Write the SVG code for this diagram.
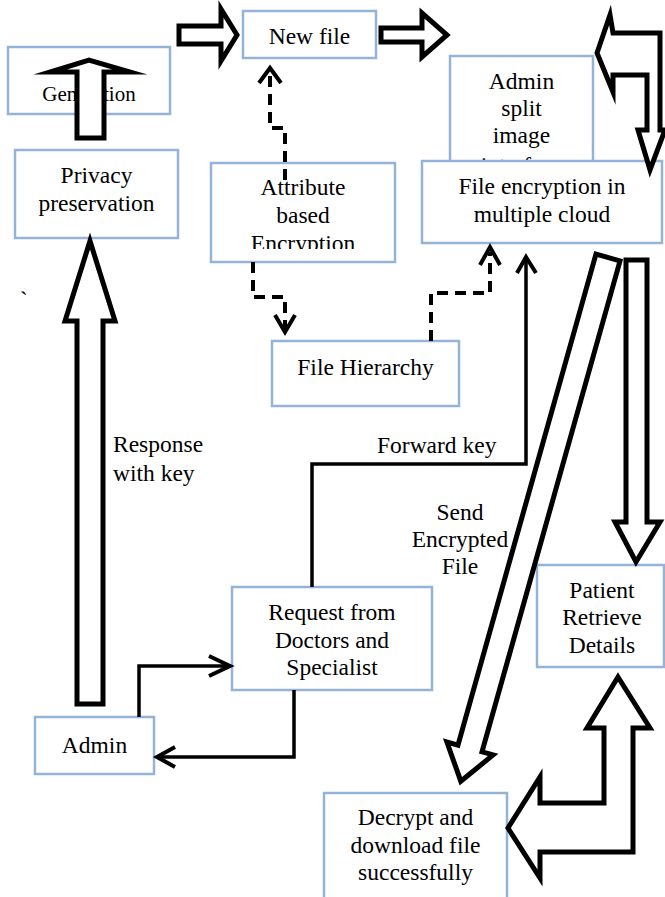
<svg xmlns="http://www.w3.org/2000/svg" width="665" height="897" viewBox="0 0 665 897">
<style>
.box{fill:#fff;stroke:#95b3d7;stroke-width:2.5}
.t{font-family:"Liberation Serif","Times New Roman",serif;font-size:23.5px;fill:#000;text-anchor:middle}
.tl{font-family:"Liberation Serif","Times New Roman",serif;font-size:23.5px;fill:#000}
.blk{fill:#fff;stroke:#000;stroke-width:5;stroke-linejoin:miter;stroke-miterlimit:10}
.dash{fill:none;stroke:#000;stroke-width:4;stroke-dasharray:11 7}
.ln{fill:none;stroke:#000;stroke-width:3.5}
.hd{fill:none;stroke:#000;stroke-width:4}
</style>
<defs>
<clipPath id="clipABE"><rect x="211" y="163" width="184" height="86"/></clipPath>
<clipPath id="clipSplit"><rect x="450" y="56" width="143" height="104"/></clipPath>
</defs>
<g id="nodes">
<g id="ca-generation">
<rect class="box" x="8" y="47" width="162" height="67"/>
<text class="t" x="89" y="75" style="font-size:21px">CA</text>
<text class="t" x="89" y="101" style="font-size:21px">Generation</text>
</g>
<g id="new-file">
<rect class="box" x="243" y="11" width="133" height="47"/>
<text class="t" x="309.5" y="44">New file</text>
</g>
<g id="admin-split">
<rect class="box" x="450" y="56" width="143" height="120"/>
<g clip-path="url(#clipSplit)">
<text class="t" x="521.5" y="89">Admin</text>
<text class="t" x="521.5" y="116">split</text>
<text class="t" x="521.5" y="143">image</text>
<text class="t" x="521.5" y="173">into four</text>
</g>
</g>
<g id="file-encryption">
<rect class="box" x="422" y="161" width="240" height="82"/>
<text class="t" x="542" y="194">File encryption in</text>
<text class="t" x="542" y="222">multiple cloud</text>
</g>
<g id="privacy">
<rect class="box" x="15" y="150" width="163" height="88"/>
<text class="t" x="96.5" y="183">Privacy</text>
<text class="t" x="96.5" y="211">preservation</text>
</g>
<g id="abe">
<rect class="box" x="211" y="163" width="184" height="99"/>
<g clip-path="url(#clipABE)">
<text class="t" x="303" y="195">Attribute</text>
<text class="t" x="303" y="223">based</text>
<text class="t" x="303" y="251">Encryption</text>
</g>
</g>
<g id="file-hierarchy">
<rect class="box" x="272" y="341" width="187" height="65"/>
<text class="t" x="365.5" y="375">File Hierarchy</text>
</g>
<g id="request">
<rect class="box" x="232" y="587" width="200" height="103"/>
<text class="t" x="332" y="620">Request from</text>
<text class="t" x="332" y="648">Doctors and</text>
<text class="t" x="332" y="675">Specialist</text>
</g>
<g id="admin">
<rect class="box" x="35" y="717" width="119" height="57"/>
<text class="t" x="94.5" y="753">Admin</text>
</g>
<g id="patient">
<rect class="box" x="537" y="565" width="127" height="102"/>
<text class="t" x="602" y="598">Patient</text>
<text class="t" x="602" y="625">Retrieve</text>
<text class="t" x="602" y="653">Details</text>
</g>
<g id="decrypt">
<rect class="box" x="324" y="793" width="183" height="110"/>
<text class="t" x="415.5" y="825">Decrypt and</text>
<text class="t" x="415.5" y="853">download file</text>
<text class="t" x="415.5" y="880">successfully</text>
</g>
</g>
<g id="connectors">
<polygon class="blk" points="77,138 77,72 50,72 89,60 130,72 104,72 104,138"/>
<polygon class="blk" points="179,26 221,26 221,9 237,35 221,61 221,44 179,44"/>
<polygon class="blk" points="381,28 422,28 422,13 447,35 422,57 422,42 381,42"/>
<polygon class="blk" points="597,53 610,15 613,33 660,33 660,130 665,130 650,170 638,130 647,130 647,75 613,75 613,92"/>
<polygon class="blk" points="77,704 77,321 65,321 90,241 115,321 103,321 103,704"/>
<polygon class="blk" points="626,260 647,260 647,522 660,522 636,562 615,522 626,522"/>
<polygon class="blk" transform="translate(608,257.5) rotate(105.7)" points="0,-12.5 510,-12.5 510,-24 544,0 510,24 510,12.5 0,12.5"/>
<polygon class="blk" points="618,677 650,728 633,728 633,852 540,852 540,878 508,828 540,777 540,803 604,803 604,728 587,728"/>
<path class="dash" d="M285,180 V128 H270 V72"/>
<polyline class="hd" points="259,83 270,68 281,83"/>
<path class="dash" d="M253,262 V297 H285 V328"/>
<polyline class="hd" points="275,315 285,332 295,315"/>
<path class="dash" d="M431,341 V293 H490 V252"/>
<polyline class="hd" points="480,265 490,247 500,265"/>
<path class="ln" d="M312,587 V464 H526 V260"/>
<polyline class="hd" points="517,273 526,257 536,273"/>
<path class="ln" d="M139,717 V666 H228"/>
<polyline class="hd" points="209,656 230,666 209,676"/>
<path class="ln" d="M294,690 V757 H159"/>
<polyline class="hd" points="175,747 157,757 175,767"/>
</g>
<g id="labels">
<text class="tl" x="377" y="453">Forward key</text>
<text class="t" x="460" y="520">Send</text>
<text class="t" x="460" y="547">Encrypted</text>
<text class="t" x="460" y="574">File</text>
<text class="tl" x="113" y="452">Response</text>
<text class="tl" x="113" y="481">with key</text>
<text class="tl" x="20" y="308">`</text>
</g>
</svg>
